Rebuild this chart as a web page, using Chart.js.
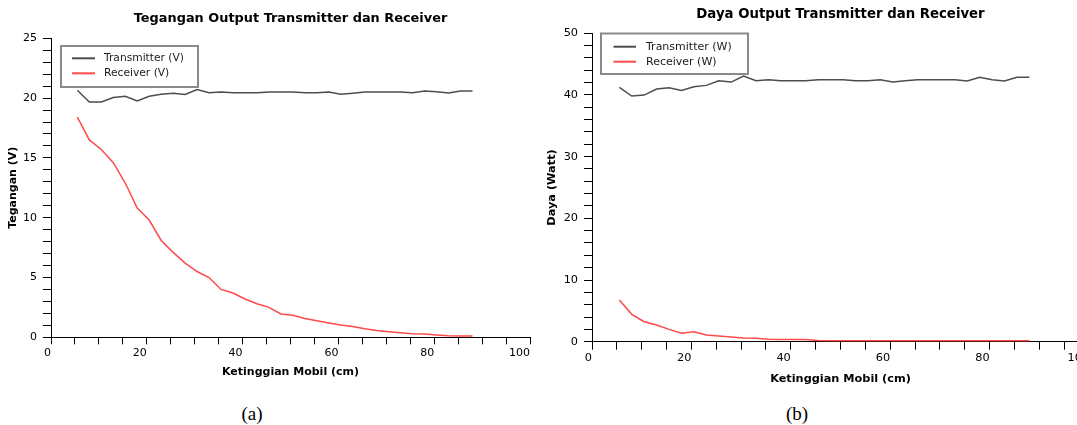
<!DOCTYPE html>
<html lang="id">
<head>
<meta charset="UTF-8">
<title>Output Transmitter dan Receiver</title>
<style>
    body {
        margin: 0;
        background: #fff;
        width: 1077px;
        height: 425px;
        overflow: hidden;
        position: relative;
    }
    canvas {
        position: absolute;
        top: 0;
    }
    #chartA { left: 0; }
    #chartB { left: 537px; }
    .caption {
        position: absolute;
        top: 403px;
        width: 60px;
        margin-left: -30px;
        text-align: center;
        font-family: 'Liberation Serif', 'Times New Roman', serif;
        font-size: 19px;
        line-height: 22px;
        color: #000;
    }
</style>
</head>
<body>
<canvas id="chartA" width="537" height="392"></canvas>
<canvas id="chartB" width="560" height="398"></canvas>
<div class="caption" style="left:252px">(a)</div>
<div class="caption" style="left:797px">(b)</div>

<script src="https://cdn.jsdelivr.net/npm/chart.js@4"></script>
<script>
// ketinggian mobil (cm)
const heights = [5.5, 8, 10.5, 13, 15.5, 18, 20.5, 23, 25.5, 28, 30.5, 33, 35.5, 38, 40.5, 43, 45.5,
                 48, 50.5, 53, 55.5, 58, 60.5, 63, 65.5, 68, 70.5, 73, 75.5, 78, 80.5, 83, 85.5, 88];

// tegangan (V)
const txVolt = [20.65, 19.67, 19.67, 20.05, 20.15, 19.77, 20.15, 20.32, 20.4, 20.3, 20.72, 20.45,
                20.5, 20.45, 20.45, 20.45, 20.5, 20.5, 20.5, 20.45, 20.45, 20.5, 20.32, 20.4,
                20.5, 20.5, 20.5, 20.5, 20.45, 20.6, 20.52, 20.43, 20.6, 20.6];
const rxVolt = [18.4, 16.5, 15.7, 14.6, 12.9, 10.8, 9.8, 8.1, 7.1, 6.2, 5.5, 5.0, 4.0, 3.7, 3.2,
                2.8, 2.5, 1.95, 1.85, 1.58, 1.38, 1.2, 1.02, 0.9, 0.72, 0.57, 0.47, 0.38, 0.3,
                0.28, 0.2, 0.12, 0.1, 0.1];

// daya (W)
const txWatt = [41.23, 39.82, 39.98, 40.96, 41.17, 40.74, 41.33, 41.55, 42.3, 42.09, 43.06, 42.3,
                42.46, 42.3, 42.3, 42.3, 42.46, 42.46, 42.46, 42.3, 42.3, 42.46, 42.09, 42.3,
                42.46, 42.46, 42.46, 42.46, 42.25, 42.85, 42.46, 42.25, 42.85, 42.85];
const rxWatt = [6.76, 4.44, 3.24, 2.71, 2.0, 1.36, 1.62, 1.09, 0.92, 0.76, 0.6, 0.54, 0.39, 0.36,
                0.36, 0.36, 0.2, 0.15, 0.15, 0.15, 0.15, 0.15, 0.15, 0.15, 0.15, 0.15, 0.15, 0.15,
                0.15, 0.15, 0.15, 0.15, 0.15, 0.15];

// tick labels
const xTickLabels = [0, 20, 40, 60, 80, 100];
const voltTickLabels = [0, 5, 10, 15, 20, 25];
const wattTickLabels = [0, 10, 20, 30, 40, 50];

const TX_COLOR = '#4d4d4d';
const RX_COLOR = '#ff4a4a';

// legend in a grey box, drawn on the canvas
const boxLegend = {
    id: 'boxLegend',
    afterDraw(chart, args, o) {
        const ctx = chart.ctx;
        ctx.save();
        ctx.fillStyle = '#fff';
        ctx.fillRect(o.x, o.y, o.w, o.h);
        ctx.strokeStyle = '#8a8a8a';
        ctx.lineWidth = 2;
        ctx.strokeRect(o.x, o.y, o.w, o.h);
        ctx.font = o.font;
        ctx.textBaseline = 'middle';
        chart.data.datasets.forEach((ds, i) => {
            const y = o.y + o.row0 + i * o.rowGap;
            ctx.strokeStyle = ds.borderColor;
            ctx.lineWidth = 2;
            ctx.beginPath();
            ctx.moveTo(o.x + o.lx0, y);
            ctx.lineTo(o.x + o.lx1, y);
            ctx.stroke();
            ctx.fillStyle = '#1a1a1a';
            ctx.fillText(ds.label, o.x + o.tx, y);
        });
        ctx.restore();
    }
};

function points(values) {
    return heights.map((h, i) => ({ x: h, y: values[i] }));
}

function makeChart(id, c) {
    return new Chart(document.getElementById(id), {
        type: 'line',
        data: {
            datasets: [
                { label: c.txLabel, data: points(c.tx), borderColor: TX_COLOR, borderWidth: 1.5 },
                { label: c.rxLabel, data: points(c.rx), borderColor: RX_COLOR, borderWidth: 1.5 }
            ]
        },
        options: {
            responsive: false,
            animation: false,
            devicePixelRatio: 1,
            elements: { point: { radius: 0 }, line: { tension: 0 } },
            layout: { padding: { left: 0, right: c.padRight, top: 0, bottom: 0 } },
            plugins: {
                legend: { display: false },
                tooltip: { enabled: false },
                title: {
                    display: true,
                    text: c.title,
                    fullSize: false,
                    color: '#000',
                    font: { family: 'DejaVu Sans', size: c.titleSize, weight: 'bold' },
                    padding: c.titlePad
                },
                boxLegend: c.legend
            },
            scales: {
                x: {
                    type: 'linear',
                    min: 0,
                    max: 100,
                    afterFit: s => { s.height = c.xHeight; },
                    ticks: {
                        stepSize: 5,
                        autoSkip: false,
                        maxRotation: 0,
                        align: 'end',
                        padding: 2,
                        color: '#000',
                        font: { family: 'DejaVu Sans', size: c.tickSize },
                        callback: v => xTickLabels.includes(v) ? v : ''
                    },
                    grid: { drawOnChartArea: false, tickLength: c.xTickLen, color: '#000', tickColor: '#000' },
                    border: { color: '#000', width: 1 },
                    title: {
                        display: true,
                        text: 'Ketinggian Mobil (cm)',
                        color: '#000',
                        font: { family: 'DejaVu Sans', size: c.axisTitleSize, weight: 'bold' },
                        padding: { top: 0, bottom: c.xTitlePad }
                    }
                },
                y: {
                    type: 'linear',
                    min: 0,
                    max: c.yMax,
                    afterFit: s => { s.width = c.yWidth; },
                    ticks: {
                        stepSize: c.yStep,
                        autoSkip: false,
                        padding: 6,
                        color: '#000',
                        font: { family: 'DejaVu Sans', size: c.tickSize },
                        callback: v => c.yLabels.includes(v) ? v : ''
                    },
                    grid: { drawOnChartArea: false, tickLength: 8, color: '#000', tickColor: '#000' },
                    border: { color: '#000', width: 1 },
                    title: {
                        display: true,
                        text: c.yTitle,
                        color: '#000',
                        font: { family: 'DejaVu Sans', size: c.axisTitleSize, weight: 'bold' },
                        padding: { top: c.yTitlePad, bottom: 0 }
                    }
                }
            }
        },
        plugins: [boxLegend]
    });
}

makeChart('chartA', {
    title: 'Tegangan Output Transmitter dan Receiver',
    yTitle: 'Tegangan (V)',
    txLabel: 'Transmitter (V)',
    rxLabel: 'Receiver (V)',
    tx: txVolt,
    rx: rxVolt,
    yMax: 25,
    yStep: 1,
    yLabels: voltTickLabels,
    padRight: 7,
    yWidth: 51,
    xHeight: 54.7,
    titleSize: 12.9,
    titlePad: { top: 11.3, bottom: 11.5 },
    axisTitleSize: 11,
    tickSize: 11,
    xTickLen: 7,
    xTitlePad: 13.4,
    yTitlePad: 6.3,
    legend: { x: 61, y: 46, w: 137, h: 41, row0: 12.3, rowGap: 15, lx0: 11, lx1: 34, tx: 43,
              font: '10.7px "DejaVu Sans"' }
});

makeChart('chartB', {
    title: 'Daya Output Transmitter dan Receiver',
    yTitle: 'Daya (Watt)',
    txLabel: 'Transmitter (W)',
    rxLabel: 'Receiver (W)',
    tx: txWatt,
    rx: rxWatt,
    yMax: 50,
    yStep: 2,
    yLabels: wattTickLabels,
    padRight: 8,
    yWidth: 55,
    xHeight: 56.3,
    titleSize: 13.3,
    titlePad: { top: 6.5, bottom: 10.8 },
    axisTitleSize: 11.3,
    tickSize: 11.3,
    xTickLen: 8,
    xTitlePad: 12.4,
    yTitlePad: 8.4,
    legend: { x: 64, y: 33.5, w: 147, h: 40.5, row0: 13.2, rowGap: 15, lx0: 12.5, lx1: 35, tx: 45,
              font: '11px "DejaVu Sans"' }
});
</script>
</body>
</html>
